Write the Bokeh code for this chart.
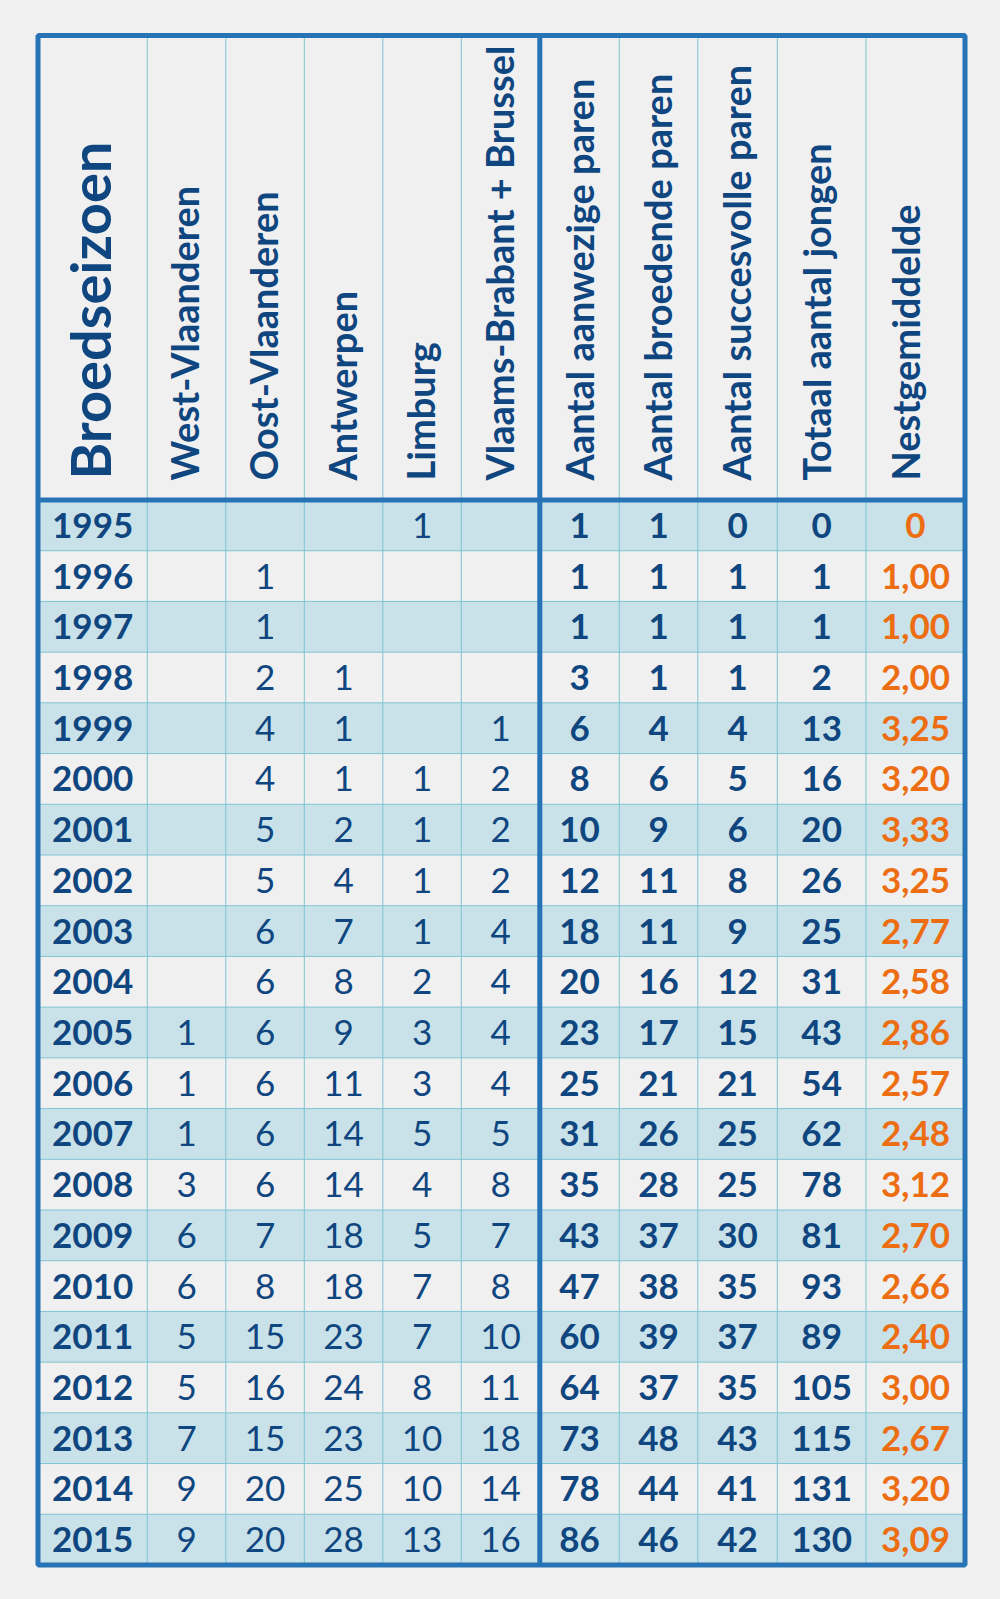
import math
from bokeh.plotting import figure
from bokeh.models import Range1d
from bokeh.embed import file_html
from bokeh.resources import INLINE
from bokeh.core.properties import value

# ---------------- data ----------------
headers = ["Broedseizoen", "West-Vlaanderen", "Oost-Vlaanderen", "Antwerpen", "Limburg",
           "Vlaams-Brabant + Brussel", "Aantal aanwezige paren", "Aantal broedende paren",
           "Aantal succesvolle paren", "Totaal aantal jongen", "Nestgemiddelde"]
years = [1995, 1996, 1997, 1998, 1999, 2000, 2001, 2002, 2003, 2004, 2005,
         2006, 2007, 2008, 2009, 2010, 2011, 2012, 2013, 2014, 2015]
west_vlaanderen = [None]*10 + [1, 1, 1, 3, 6, 6, 5, 5, 7, 9, 9]
oost_vlaanderen = [None, 1, 1, 2, 4, 4, 5, 5, 6, 6, 6, 6, 6, 6, 7, 8, 15, 16, 15, 20, 20]
antwerpen = [None, None, None, 1, 1, 1, 2, 4, 7, 8, 9, 11, 14, 14, 18, 18, 23, 24, 23, 25, 28]
limburg = [1, None, None, None, None, 1, 1, 1, 1, 2, 3, 3, 5, 4, 5, 7, 7, 8, 10, 10, 13]
vlaams_brabant_brussel = [None, None, None, None, 1, 2, 2, 2, 4, 4, 4, 4, 5, 8, 7, 8, 10, 11, 18, 14, 16]
aanwezige_paren = [1, 1, 1, 3, 6, 8, 10, 12, 18, 20, 23, 25, 31, 35, 43, 47, 60, 64, 73, 78, 86]
broedende_paren = [1, 1, 1, 1, 4, 6, 9, 11, 11, 16, 17, 21, 26, 28, 37, 38, 39, 37, 48, 44, 46]
succesvolle_paren = [0, 1, 1, 1, 4, 5, 6, 8, 9, 12, 15, 21, 25, 25, 30, 35, 37, 35, 43, 41, 42]
totaal_jongen = [0, 1, 1, 2, 13, 16, 20, 26, 25, 31, 43, 54, 62, 78, 81, 93, 89, 105, 115, 131, 130]
nestgemiddelde = ["0", "1,00", "1,00", "2,00", "3,25", "3,20", "3,33", "3,25", "2,77", "2,58", "2,86",
                  "2,57", "2,48", "3,12", "2,70", "2,66", "2,40", "3,00", "2,67", "3,20", "3,09"]

# ---------------- layout / style ----------------
W, H = 984, 1583
col_edges = [37.5, 146.8, 225.3, 303.8, 382.3, 460.8, 539.3, 618.8, 697.3, 776.8, 865.5, 964.5]
header_dx = [-3, -2.5, -2, -2, -2, -2, -1, -1.5, -1.5, -6, -11]   # header shift from column centre
top = 35.0
header_bottom = 499.5
row_h = (1564.5 - header_bottom) / len(years)
bottom = header_bottom + row_h * len(years)

BG = "#f0f0f0"
SHADE = "#c9e2e9"
THIN = "#7fc4d3"
THICK = "#2673b5"
NAVY = "#0f4680"
ORANGE = "#ec6d12"
FONT = "Lato"

p = figure(width=W, height=H, output_backend="svg", toolbar_location=None,
           x_range=Range1d(0, W), y_range=Range1d(-H, 0),
           min_border=0, background_fill_color=BG, border_fill_color=BG)
p.axis.visible = False
p.grid.visible = False
p.outline_line_color = None

n = len(years)
# shaded rows
shade_idx = [i for i in range(n) if i % 2 == 0]
p.quad(left=[col_edges[0]] * len(shade_idx), right=[col_edges[-1]] * len(shade_idx),
       top=[-(header_bottom + i * row_h) for i in shade_idx],
       bottom=[-(header_bottom + (i + 1) * row_h) for i in shade_idx],
       fill_color=SHADE, line_color=None)

# thin grid lines
hx0, hx1 = [], []
for i in range(1, n):
    y = -(header_bottom + i * row_h)
    hx0.append([col_edges[0], col_edges[-1]])
    hx1.append([y, y])
p.multi_line(xs=hx0, ys=hx1, line_color=THIN, line_width=1)
vx, vy = [], []
for k, x in enumerate(col_edges[1:-1]):
    if k + 1 == 6:
        continue
    vx.append([x, x])
    vy.append([-top, -bottom])
p.multi_line(xs=vx, ys=vy, line_color=THIN, line_width=1)

# thick lines
p.multi_line(xs=[[col_edges[0], col_edges[-1]], [col_edges[6], col_edges[6]]],
             ys=[[-header_bottom, -header_bottom], [-top, -bottom]],
             line_color=THICK, line_width=5)
p.quad(left=[col_edges[0]], right=[col_edges[-1]], top=[-top], bottom=[-bottom],
       fill_color=None, line_color=THICK, line_width=5)

centers = [(col_edges[i] + col_edges[i + 1]) / 2 for i in range(len(col_edges) - 1)]

# headers (rotated, reading bottom to top)
s0, s1 = 56, 38
p.text(x=[centers[0] + header_dx[0]], y=[-479], text=[headers[0]], angle=math.pi / 2,
       text_font=value(FONT), text_font_size=f"{s0}px", text_font_style="bold",
       text_color=NAVY, text_align="left", text_baseline="middle")
p.text(x=[centers[i] + header_dx[i] for i in range(1, len(headers))],
       y=[-480] * (len(headers) - 1), text=headers[1:], angle=math.pi / 2,
       text_font=value(FONT), text_font_size=f"{s1}px", text_font_style="bold",
       text_color=NAVY, text_align="left", text_baseline="middle")

row_y = [-(header_bottom + (i + 0.5) * row_h) for i in range(n)]

def put(col, vals, style, color):
    xs, ys, ts = [], [], []
    for i, v in enumerate(vals):
        if v is None:
            continue
        xs.append(centers[col]); ys.append(row_y[i]); ts.append(str(v))
    p.text(x=xs, y=ys, text=ts, text_font=value(FONT), text_font_size="35px",
           text_font_style=style, text_color=color, text_align="center",
           text_baseline="middle")

put(0, years, "bold", NAVY)
for c, arr in enumerate([west_vlaanderen, oost_vlaanderen, antwerpen, limburg, vlaams_brabant_brussel], start=1):
    put(c, arr, "normal", NAVY)
for c, arr in enumerate([aanwezige_paren, broedende_paren, succesvolle_paren, totaal_jongen], start=6):
    put(c, arr, "bold", NAVY)
put(10, nestgemiddelde, "bold", ORANGE)

html = file_html(p, INLINE)
html = html.replace("</head>", "<style>html,body{background:#f0f0f0 !important;}</style></head>", 1)
open("out.html", "w").write(html)
